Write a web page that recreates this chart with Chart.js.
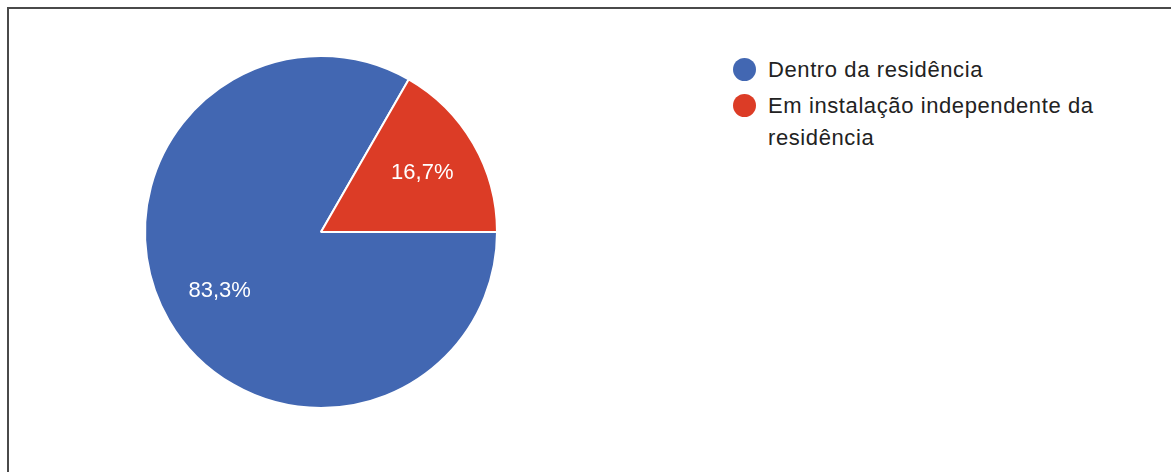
<!DOCTYPE html>
<html>
<head>
<meta charset="utf-8">
<script src="https://cdn.jsdelivr.net/npm/chart.js@4"></script>
<style>
  body { margin: 0; background: #fff; font-family: "Liberation Sans", Arial, sans-serif; }
  #frame {
    position: absolute; left: 7px; top: 7px; right: 0; bottom: 0;
    border-left: 2px solid #4a4a4a; border-top: 2px solid #4a4a4a;
  }
  #chartBox { position: absolute; left: 0; top: 0; width: 642px; height: 472px; }
  #legend { position: absolute; left: 733px; top: 54px; }
  .item { display: flex; align-items: flex-start; margin-bottom: 4px; }
  .dot { width: 23px; height: 23px; border-radius: 50%; margin-top: 4px; margin-right: 12px; flex: none; }
  .txt { width: 360px; font-size: 22px; line-height: 32px; color: #222; letter-spacing: 0.6px; }
</style>
</head>
<body>
<div id="frame"></div>
<div id="chartBox"><canvas id="pieChart"></canvas></div>
<div id="legend"></div>
<script>
let categories = ["Dentro da residência", "Em instalação independente da residência"];
let percentages = [83.3, 16.7];
let sliceColors = ["#4267b2", "#dc3c26"];

// legend drawn as html so the long label can wrap
function buildLegend() {
    let legend = document.getElementById("legend");
    legend.innerHTML = "";
    categories.forEach((name, i) => {
        legend.innerHTML += `<div class="item">
            <span class="dot" style="background:${sliceColors[i]}"></span>
            <span class="txt">${name}</span>
        </div>`;
    });
}

// percentage text inside each slice
const sliceLabels = {
    id: "sliceLabels",
    afterDatasetsDraw(chart) {
        let ctx = chart.ctx;
        let meta = chart.getDatasetMeta(0);
        ctx.save();
        ctx.fillStyle = "#ffffff";
        ctx.font = "22px 'Liberation Sans', Arial, sans-serif";
        ctx.textAlign = "center";
        ctx.textBaseline = "middle";
        meta.data.forEach((arc, i) => {
            let p = arc.getProps(["x", "y", "startAngle", "endAngle", "outerRadius"], true);
            let mid = (p.startAngle + p.endAngle) / 2;
            let r = p.outerRadius * 0.665;
            let label = percentages[i].toFixed(1).replace(".", ",") + "%";
            ctx.fillText(label, p.x + Math.cos(mid) * r, p.y + Math.sin(mid) * r);
        });
        ctx.restore();
    }
};

let ctx = document.getElementById("pieChart").getContext("2d");
let chartInstance = new Chart(ctx, {
    type: "pie",
    data: {
        labels: categories,
        datasets: [{
            data: percentages,
            backgroundColor: sliceColors,
            borderColor: "#ffffff",
            borderWidth: 2
        }]
    },
    options: {
        responsive: true,
        maintainAspectRatio: false,
        animation: false,
        rotation: 90,
        layout: { padding: { top: 55, bottom: 63 } },
        plugins: {
            legend: { display: false },
            tooltip: { enabled: false }
        }
    },
    plugins: [sliceLabels]
});

buildLegend();
</script>
</body>
</html>
